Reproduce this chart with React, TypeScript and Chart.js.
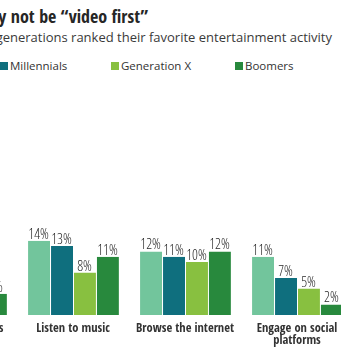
import React, { useEffect, useRef } from "react";
import { Chart, registerables } from "chart.js";

Chart.register(...registerables);

const categories: (string | string[])[] = [
  "Play video games",
  "Listen to music",
  "Browse the internet",
  ["Engage on social", "platforms"],
];
const seriesNames = ["Gen Z", "Millennials", "Generation X", "Boomers"];
const seriesColors = ["#72c59c", "#0f6f7e", "#88c040", "#28893d"];
const genZ = [26, 14, 12, 11];
const millennials = [13, 13, 11, 7];
const genX = [10, 8, 10, 5];
const boomers = [4, 11, 12, 2];
const seriesValues = [genZ, millennials, genX, boomers];

const titleText = "Gen Z may not be \u201cvideo first\u201d";
const subtitleText = "How generations ranked their favorite entertainment activity";

const COND_FONT = "'Open Sans Condensed', 'Roboto Condensed', sans-serif";

const dataLabelPlugin = {
  id: "dataLabels",
  afterDatasetsDraw(chart: any) {
    const ctx = chart.ctx;
    ctx.save();
    ctx.font = "300 14.5px 'Open Sans', sans-serif";
    try {
      (ctx as any).fontStretch = "condensed";
    } catch (e) {}
    ctx.fillStyle = "#2a2a2a";
    ctx.textAlign = "center";
    ctx.textBaseline = "alphabetic";
    chart.data.datasets.forEach((ds: any, i: number) => {
      const meta = chart.getDatasetMeta(i);
      meta.data.forEach((el: any, j: number) => {
        ctx.fillText(`${ds.data[j]}%`, el.x, el.y - 2);
      });
    });
    ctx.restore();
  },
};

function BarChart() {
  const ref = useRef<HTMLCanvasElement>(null);
  useEffect(() => {
    if (!ref.current) return;
    const chart = new Chart(ref.current, {
      type: "bar",
      data: {
        labels: categories,
        datasets: seriesNames.map((name, i) => ({
          label: name,
          data: seriesValues[i],
          backgroundColor: seriesColors[i],
          borderColor: "rgba(255,255,255,0.55)",
          borderWidth: { left: 1, right: 0, top: 0, bottom: 0 },
          borderSkipped: false,
          categoryPercentage: 0.82,
          barPercentage: 1,
        })),
      },
      options: {
        animation: false,
        responsive: true,
        maintainAspectRatio: false,
        layout: { padding: { left: 0, right: 0, top: 103, bottom: 4 } },
        plugins: { legend: { display: false }, tooltip: { enabled: false } },
        scales: {
          x: {
            grid: { display: false, drawTicks: false },
            border: { display: false },
            ticks: {
              autoSkip: false,
              maxRotation: 0,
              padding: 7,
              color: "#333333",
              font: { family: COND_FONT, size: 12.5, weight: "bold", lineHeight: 1.0 },
            },
          },
          y: { display: false, min: 0, max: 40 },
        },
      },
      plugins: [dataLabelPlugin],
    });
    return () => chart.destroy();
  }, []);
  return (
    <div style={{ position: "absolute", left: -95, top: 0, width: 448, height: 358 }}>
      <canvas ref={ref} />
    </div>
  );
}

const legendLefts = [-85, 0, 111, 235];

export default function App() {
  return (
    <div
      style={{
        position: "fixed",
        left: 0,
        top: 0,
        width: 341,
        height: 358,
        overflow: "hidden",
        background: "#fff",
      }}
    >
      <div
        style={{
          position: "absolute",
          left: -252,
          width: 400,
          top: 6,
          textAlign: "right",
          whiteSpace: "nowrap",
          font: `bold 18px/20px ${COND_FONT}`,
          color: "#262626",
        }}
      >
        {titleText}
      </div>
      <div
        style={{
          position: "absolute",
          left: -268,
          width: 600,
          top: 29,
          textAlign: "right",
          whiteSpace: "nowrap",
          font: "13px/16px 'Open Sans', sans-serif",
          color: "#3a3a3a",
        }}
      >
        {subtitleText}
      </div>
      {seriesNames.map((name, i) => (
        <div
          key={name}
          style={{
            position: "absolute",
            left: legendLefts[i],
            top: 58,
            display: "flex",
            alignItems: "center",
            whiteSpace: "nowrap",
            font: "11.5px/16px 'Open Sans', sans-serif",
            color: "#333",
          }}
        >
          <span
            style={{
              display: "inline-block",
              width: 8,
              height: 8,
              background: seriesColors[i],
              marginRight: 2,
            }}
          />
          {name}
        </div>
      ))}
      <BarChart />
    </div>
  );
}
